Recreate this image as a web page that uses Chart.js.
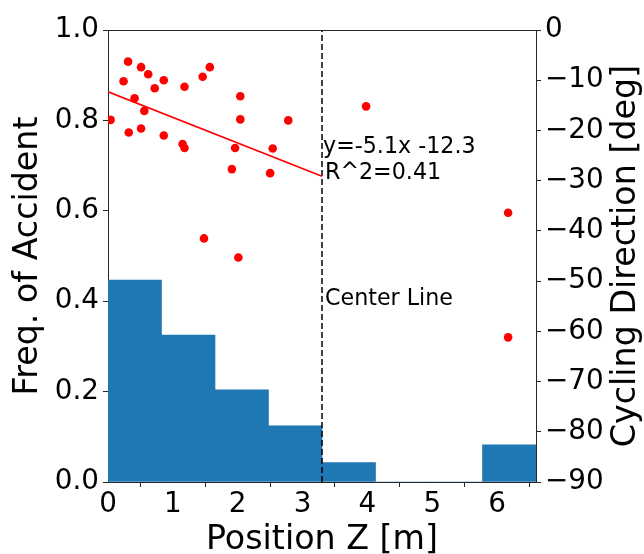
<!DOCTYPE html>
<html>
<head>
<meta charset="utf-8">
<script src="https://cdn.jsdelivr.net/npm/chart.js@4.4.1/dist/chart.umd.min.js"></script>
<style>
  html, body { margin: 0; padding: 0; background: #fff; }
  #wrap { width: 644px; height: 554px; }
</style>
</head>
<body>
<div id="wrap"><canvas id="chart" width="644" height="554"></canvas></div>
<script>
// Histogram of accident position (density)
const binCenters = [0.4125, 1.2375, 2.0625, 2.8875, 3.7125, 4.5375, 5.3625, 6.1875];
const binFreq = [0.447, 0.325, 0.204, 0.124, 0.043, 0, 0, 0.082];

// Cycling direction samples
const dirX = [0.04, 0.24, 0.31, 0.32, 0.41, 0.51, 0.51, 0.56, 0.62, 0.72, 0.86, 0.86, 1.15, 1.18, 1.18,
              1.46, 1.57, 1.48, 1.91, 1.96, 2.04, 2.04, 2.01, 2.50, 2.54, 2.78, 3.98, 6.17, 6.17];
const dirY = [-17.9, -10.2, -6.3, -20.4, -13.6, -7.4, -19.6, -16.1, -8.8, -11.6, -10.0, -21.0, -22.7, -23.5, -11.3,
              -9.3, -7.4, -41.5, -27.7, -23.5, -13.2, -17.8, -45.3, -28.5, -23.6, -18.0, -15.2, -36.4, -61.2];

// Linear fit shown on the chart
const fitSlope = -5.1;
const fitIntercept = -12.3;
const fitRange = [0, 3.3];
const centerLineX = 3.3;

const xTicks = [0, 1, 2, 3, 4, 5, 6];

const FONT = "'DejaVu Sans', sans-serif";
const AXIS_COLOR = '#262626';
const TICK_SIZE = 27.8;
const TITLE_SIZE = 33.3;
const NOTE_SIZE = 22.2;

const scatterPts = dirX.map((x, i) => ({ x: x, y: dirY[i] }));
const barPts = binCenters.map((x, i) => ({ x: x, y: binFreq[i] }));
const fitPts = fitRange.map(x => ({ x: x, y: fitSlope * x + fitIntercept }));
const centerPts = [{ x: centerLineX, y: 0 }, { x: centerLineX, y: 1 }];

// Frame on top, axis titles and annotation texts
const extras = {
  id: 'extras',
  afterDatasetsDraw(chart) {
    const ctx = chart.ctx;
    const a = chart.chartArea;
    const xs = chart.scales.x, y1 = chart.scales.y1, y = chart.scales.y;
    ctx.save();
    ctx.strokeStyle = AXIS_COLOR;
    ctx.lineWidth = 1;
    ctx.beginPath();
    ctx.moveTo(a.left, a.top + 0.5);
    ctx.lineTo(a.right, a.top + 0.5);
    ctx.stroke();

    ctx.fillStyle = '#000';
    ctx.font = NOTE_SIZE + 'px ' + FONT;
    ctx.textBaseline = 'alphabetic';
    ctx.textAlign = 'left';
    const tx = xs.getPixelForValue(centerLineX);
    ctx.fillText('y=' + fitSlope + 'x ' + fitIntercept, tx + 1, y1.getPixelForValue(-24.5));
    ctx.fillText('R^2=0.41', tx + 3, y1.getPixelForValue(-29.7));
    ctx.fillText('Center Line', tx + 3, y.getPixelForValue(0.392));

    // axis titles
    ctx.font = TITLE_SIZE + 'px ' + FONT;
    ctx.textAlign = 'center';
    const midY = (a.top + a.bottom) / 2;
    ctx.fillText('Position Z [m]', (a.left + a.right) / 2, 549);
    ctx.save();
    ctx.translate(37, midY);
    ctx.rotate(-Math.PI / 2);
    ctx.fillText('Freq. of Accident', 0, 0);
    ctx.restore();
    ctx.save();
    ctx.translate(635, midY);
    ctx.rotate(-Math.PI / 2);
    ctx.fillText('Cycling Direction [deg]', 0, 0);
    ctx.restore();
    ctx.restore();
  }
};

const ctx = document.getElementById('chart').getContext('2d');
new Chart(ctx, {
  data: {
    datasets: [
      {
        type: 'scatter',
        data: scatterPts,
        yAxisID: 'y1',
        backgroundColor: '#ff0000',
        borderColor: '#ff0000',
        pointRadius: 4.3,
        borderWidth: 0,
        order: 0
      },
      {
        type: 'line',
        data: fitPts,
        yAxisID: 'y1',
        borderColor: '#ff0000',
        borderWidth: 1.6,
        pointRadius: 0,
        fill: false,
        order: 1
      },
      {
        type: 'line',
        data: centerPts,
        yAxisID: 'y',
        borderColor: '#000',
        borderWidth: 1.5,
        borderDash: [6, 3],
        pointRadius: 0,
        fill: false,
        order: 1
      },
      {
        type: 'bar',
        data: barPts,
        yAxisID: 'y',
        backgroundColor: '#1f77b4',
        borderWidth: 0,
        barPercentage: 1,
        categoryPercentage: 1,
        order: 2
      }
    ]
  },
  options: {
    responsive: false,
    animation: false,
    events: [],
    layout: { padding: { top: 30, left: 0, right: 0, bottom: 0 } },
    plugins: { legend: { display: false }, tooltip: { enabled: false } },
    scales: {
      x: {
        type: 'linear',
        offset: false,
        min: 0,
        max: 6.6,
        afterBuildTicks: s => { s.ticks = xTicks.map(v => ({ value: v })); },
        afterFit: s => { s.height = 72; },
        grid: { drawOnChartArea: false, tickLength: 5, color: AXIS_COLOR },
        border: { display: true, color: AXIS_COLOR, width: 1 },
        ticks: { color: '#000', font: { family: FONT, size: TICK_SIZE }, padding: 1, maxRotation: 0 },
        title: { display: false }
      },
      y: {
        type: 'linear',
        position: 'left',
        min: 0,
        max: 1,
        ticks: { stepSize: 0.2, color: '#000', font: { family: FONT, size: TICK_SIZE }, padding: 4,
                 callback: v => v.toFixed(1) },
        afterFit: s => { s.width = 108; },
        grid: { drawOnChartArea: false, tickLength: 5, color: AXIS_COLOR },
        border: { display: true, color: AXIS_COLOR, width: 1 },
        title: { display: false }
      },
      y1: {
        type: 'linear',
        position: 'right',
        min: -90,
        max: 0,
        ticks: { stepSize: 10, color: '#000', font: { family: FONT, size: TICK_SIZE }, padding: 4,
                 callback: v => v < 0 ? '\u2212' + Math.abs(v) : String(v) },
        afterFit: s => { s.width = 108; },
        grid: { drawOnChartArea: false, tickLength: 5, color: AXIS_COLOR },
        border: { display: true, color: AXIS_COLOR, width: 1 },
        title: { display: false }
      }
    }
  },
  plugins: [extras]
});
</script>
</body>
</html>
